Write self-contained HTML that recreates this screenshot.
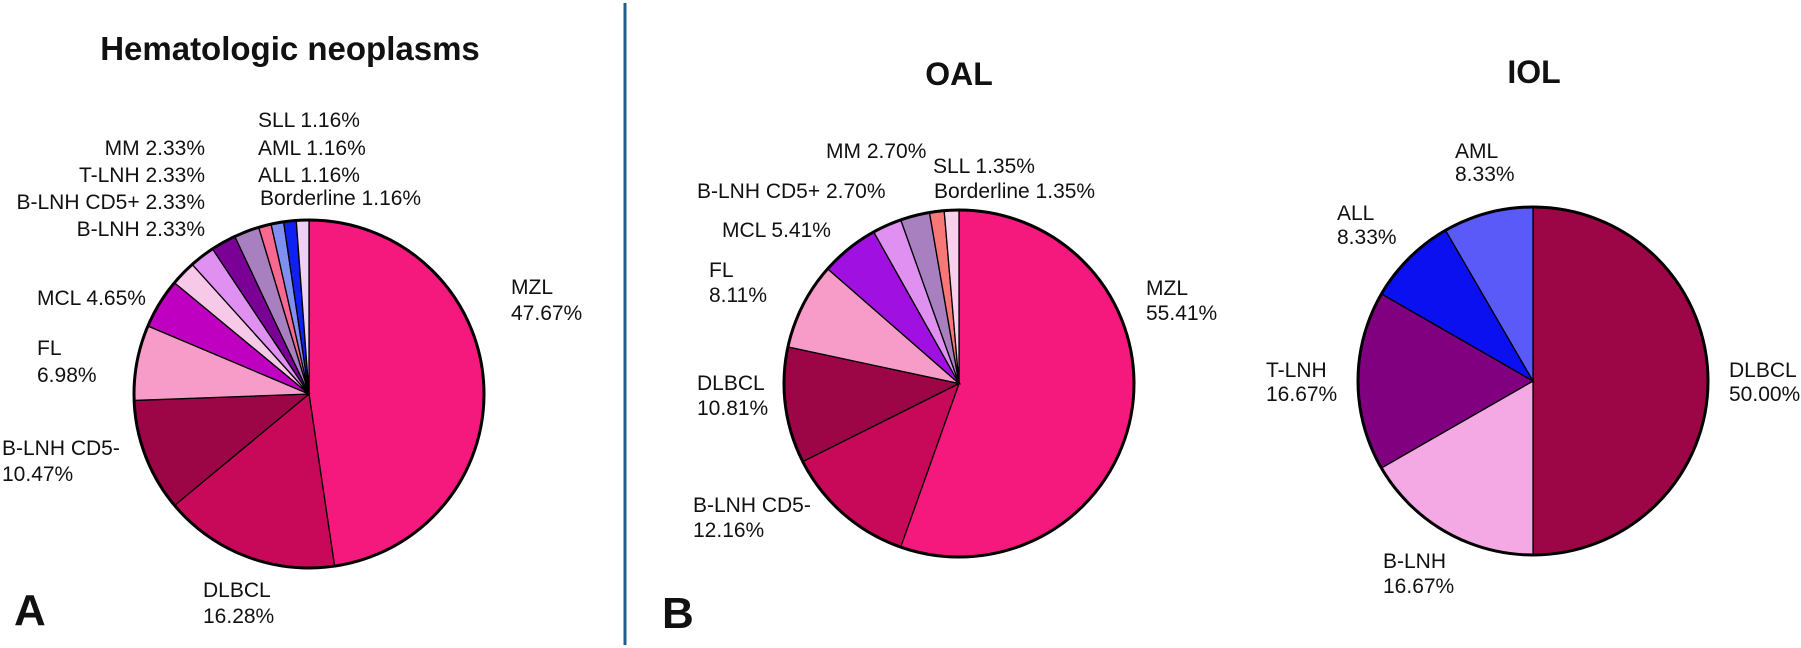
<!DOCTYPE html>
<html><head><meta charset="utf-8">
<style>
body{margin:0;background:#fff;}
svg{display:block;font-family:"Liberation Sans",Arial,sans-serif;}
text{fill:#111;}
</style></head>
<body>
<svg id="chart" width="1801" height="648" viewBox="0 0 1801 648">
<line x1="625" y1="3" x2="625" y2="645" stroke="#1f5f8a" stroke-width="3"/>
<text x="290" y="60" font-size="33" font-weight="bold" text-anchor="middle">Hematologic neoplasms</text>
<text x="959" y="85" font-size="32" font-weight="bold" text-anchor="middle">OAL</text>
<text x="1534" y="83" font-size="32" font-weight="bold" text-anchor="middle">IOL</text>
<text x="14" y="625" font-size="44" font-weight="bold">A</text>
<text x="662" y="628" font-size="44" font-weight="bold">B</text>
<g id="labels" font-size="21"></g>
</svg>
<script>
const pie1Categories=["MZL","DLBCL","B-LNH CD5-","FL","MCL","B-LNH","B-LNH CD5+","T-LNH","MM","SLL","AML","ALL","Borderline"];
const pie1Values=[47.67,16.28,10.47,6.98,4.65,2.33,2.33,2.33,2.33,1.16,1.16,1.16,1.16];
const pie1Colors=["#f5197e","#c8095a","#9c0646","#f79cc8","#c000c0","#f8c8e8","#e090f0","#7a0096","#a880c0","#f86890","#8090f0","#1020f0","#f0d0f4"];
const pie2Categories=["MZL","B-LNH CD5-","DLBCL","FL","MCL","B-LNH CD5+","MM","SLL","Borderline"];
const pie2Values=[55.41,12.16,10.81,8.11,5.41,2.70,2.70,1.35,1.35];
const pie2Colors=["#f5197e","#c8095a","#9c0646","#f79cc8","#a010e0","#e090f0","#a880c0","#f87878","#f8d0ec"];
const pie3Categories=["DLBCL","B-LNH","T-LNH","ALL","AML"];
const pie3Values=[50.00,16.67,16.67,8.33,8.33];
const pie3Colors=["#9c0646","#f4a8e4","#800080","#0a10f0","#5a5af8"];
const NS="http://www.w3.org/2000/svg";
const svg=document.getElementById('chart');
function drawPie(cx,cy,rx,ry,vals,cols,cats,name){
  const g=document.createElementNS(NS,'g');
  
  
  g.setAttribute('transform',`translate(${cx},${cy}) scale(${rx/100},${ry/100})`);
  const r=100;
  const tot=vals.reduce((a,b)=>a+b,0);
  let a0=0;
  vals.forEach((v,i)=>{
    const a1=a0+v/tot*2*Math.PI;
    const x0=r*Math.sin(a0),y0=-r*Math.cos(a0),x1=r*Math.sin(a1),y1=-r*Math.cos(a1);
    const p=document.createElementNS(NS,'path');
    p.setAttribute('d',`M0,0L${x0},${y0}A${r},${r} 0 ${(a1-a0)>Math.PI?1:0} 1 ${x1},${y1}Z`);
    p.setAttribute('fill',cols[i]);p.setAttribute('stroke','#000');p.setAttribute('stroke-width','1.3');
    p.setAttribute('vector-effect','non-scaling-stroke');
    
    
    g.appendChild(p);a0=a1;
  });
  const c=document.createElementNS(NS,'circle');
  c.setAttribute('cx',0);c.setAttribute('cy',0);c.setAttribute('r',r);c.setAttribute('fill','none');c.setAttribute('stroke','#000');c.setAttribute('stroke-width','3');
  c.setAttribute('vector-effect','non-scaling-stroke');
  
  
  g.appendChild(c);
  svg.insertBefore(g,document.getElementById('labels'));
}
drawPie(309,394,175,174,pie1Values,pie1Colors,pie1Categories,'pie-hematologic');
drawPie(959,383.5,175,173.5,pie2Values,pie2Colors,pie2Categories,'pie-oal');
drawPie(1533,381,175,174,pie3Values,pie3Colors,pie3Categories,'pie-iol');
const labels=[
["SLL  1.16%",258,127,"start"],["AML  1.16%",258,155,"start"],["ALL  1.16%",258,182,"start"],["Borderline 1.16%",260,205,"start"],
["MM 2.33%",205,155,"end"],["T-LNH 2.33%",205,182,"end"],["B-LNH CD5+ 2.33%",205,209,"end"],["B-LNH 2.33%",205,236,"end"],
["MCL 4.65%",37,305,"start"],["FL",37,355,"start"],["6.98%",37,382,"start"],["B-LNH CD5-",2,455,"start"],["10.47%",2,481,"start"],
["DLBCL",203,597,"start"],["16.28%",203,623,"start"],["MZL",511,294,"start"],["47.67%",511,320,"start"],
["MM 2.70%",826,158,"start"],["SLL 1.35%",933,173,"start"],["Borderline 1.35%",934,198,"start"],["B-LNH CD5+ 2.70%",697,198,"start"],
["MCL 5.41%",722,237,"start"],["FL",709,277,"start"],["8.11%",709,302,"start"],["DLBCL",697,390,"start"],["10.81%",697,415,"start"],
["B-LNH CD5-",693,512,"start"],["12.16%",693,537,"start"],["MZL",1146,295,"start"],["55.41%",1146,320,"start"],
["AML",1455,158,"start"],["8.33%",1455,181,"start"],["ALL",1337,220,"start"],["8.33%",1337,244,"start"],["T-LNH",1266,377,"start"],["16.67%",1266,401,"start"],
["B-LNH",1383,568,"start"],["16.67%",1383,593,"start"],["DLBCL",1729,377,"start"],["50.00%",1729,401,"start"]];
const lg=document.getElementById('labels');
labels.forEach(l=>{
  const t=document.createElementNS(NS,'text');
  t.setAttribute('x',l[1]);t.setAttribute('y',l[2]);t.setAttribute('text-anchor',l[3]);t.textContent=l[0];
  
  
  lg.appendChild(t);
});
</script>
</body></html>
